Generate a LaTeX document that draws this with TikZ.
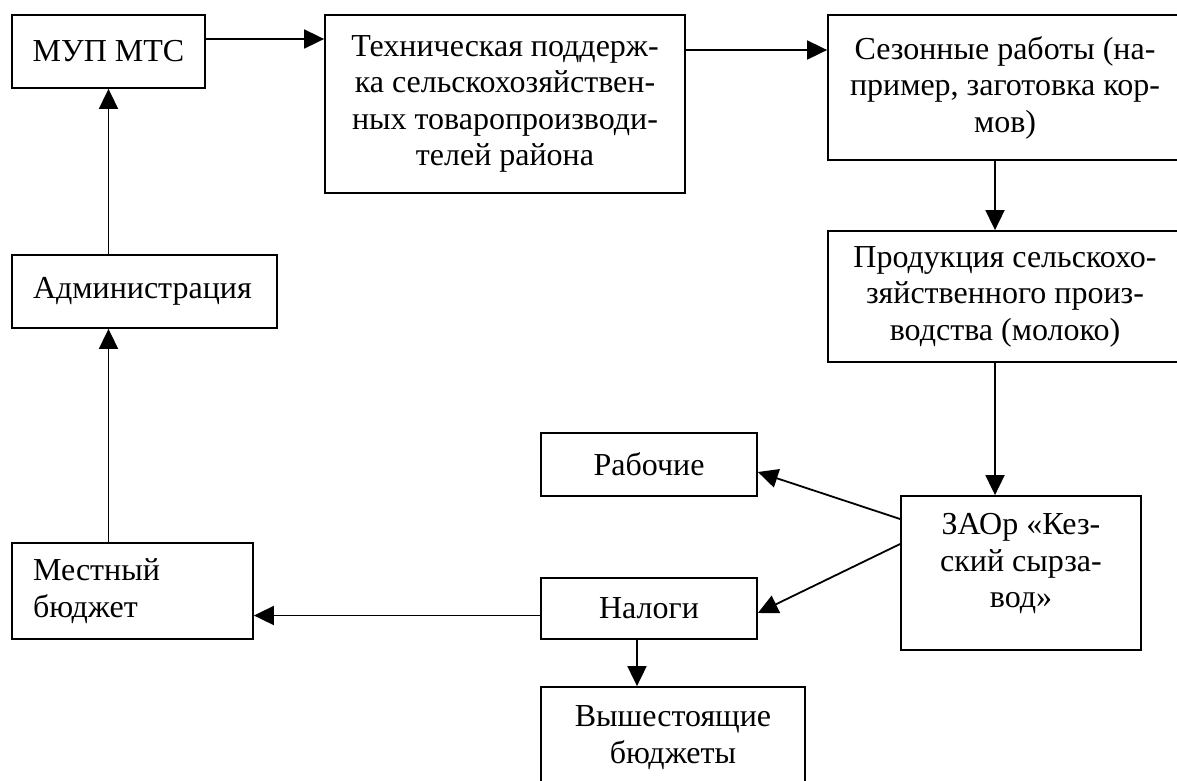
\documentclass[tikz,border=0pt]{standalone}
\usepackage{fontspec}
\setmainfont{Liberation Serif}
\usetikzlibrary{arrows.meta}
\begin{document}
\begin{tikzpicture}[x=1pt,y=-1pt,
  box/.style={draw, line width=1.8pt, inner sep=0pt, font=\fontsize{32}{36.5}\selectfont, align=center},
  arr/.style={line width=1.8pt, -{Triangle[length=20pt,width=19pt]}}]
\useasboundingbox (0,0) rectangle (1177,780);
\clip (0,0) rectangle (1177,780);
\fill[white] (0,0) rectangle (1177,780);

\node[box, minimum width=193pt, minimum height=73pt] (mup) at (108.5,51.5) {МУП МТС};
\node[box, minimum width=360pt, minimum height=178pt] (tech) at (505,104)
  {Техническая поддерж-\\ка сельскохозяйствен-\\ных товаропроизводи-\\телей района};
\node[box, minimum width=354pt, minimum height=145pt] (sez) at (1005,87.5)
  {Сезонные работы (на-\\пример, заготовка кор-\\мов)};
\node[box, minimum width=354pt, minimum height=131pt] (prod) at (1005,296.5)
  {Продукция сельскохо-\\зяйственного произ-\\водства (молоко)};
\node[box, minimum width=265pt, minimum height=73pt, text width=223pt, align=left] (adm) at (144.5,291.5)
  {Администрация};
\node[box, minimum width=241pt, minimum height=96pt, text width=199pt, align=left] (mest) at (132.5,591)
  {Местный\\бюджет};
\node[box, minimum width=216pt, minimum height=63pt] (rab) at (649,464.5) {Рабочие};
\node[box, minimum width=216pt, minimum height=61pt] (nal) at (649,608.5) {Налоги};
\node[box, minimum width=264pt, minimum height=101pt] (vys) at (673,737.5)
  {Вышестоящие\\бюджеты};
\node[box, minimum width=240pt, minimum height=154pt] (zao) at (1021,573)
  {ЗАОр «Кез-\\ский сырза-\\вод»\\[-12pt]\mbox{}};

\draw[arr] ([yshift=12.5pt]mup.east) -- ([yshift=12.5pt]mup.east -| tech.west);
\draw[arr] ([yshift=37.5pt]sez.west -| tech.east) -- ([yshift=37.5pt]sez.west);
\draw[arr] ([xshift=-10pt]sez.south) -- ([xshift=-10pt]prod.north);
\draw[arr] ([xshift=-10pt]prod.south) -- ([xshift=-10pt]prod.south |- zao.north);
\draw[arr] ([yshift=54pt]zao.west) -- ([yshift=-7.5pt]rab.east);
\draw[arr] ([yshift=29pt]zao.west) -- ([yshift=-4.5pt]nal.east);
\draw[arr] ([yshift=-7pt]nal.west) -- ([yshift=-7pt]nal.west -| mest.east);
\draw[arr] ([xshift=-12pt]nal.south) -- ([xshift=-12pt]nal.south |- vys.north);
\draw[arr] (mest.north -| mup.south) -- (adm.south -| mup.south);
\draw[arr] (adm.north -| mup.south) -- (mup.south);
\end{tikzpicture}
\end{document}
